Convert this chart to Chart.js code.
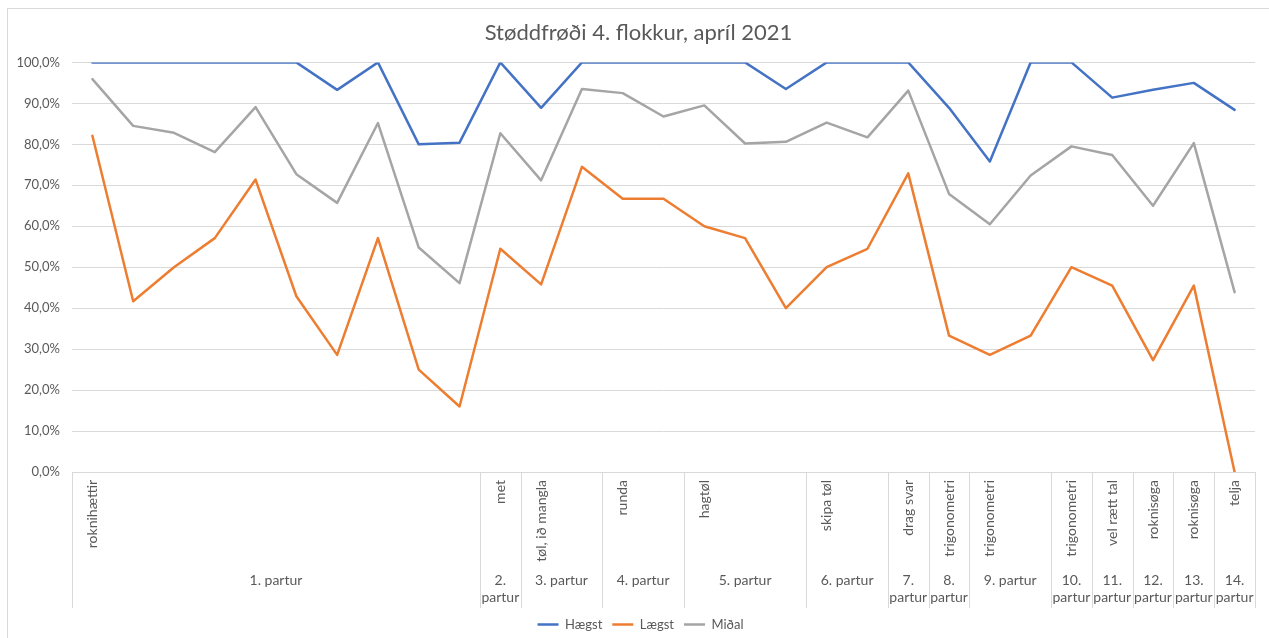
<!DOCTYPE html>
<html>
<head>
<meta charset="utf-8">
<script src="https://cdn.jsdelivr.net/npm/chart.js@4"></script>
<style>
  html, body { margin: 0; padding: 0; background: #fff; }
  #wrap { position: relative; width: 1269px; height: 638px; }
  #frame { position: absolute; left: 7px; top: 8px; right: 0; bottom: 0; border-top: 1px solid #d9d9d9; border-left: 1px solid #d9d9d9; }
  #chart { position: absolute; left: 0; top: 0; }
</style>
</head>
<body>
<div id="wrap">
  <div id="frame"></div>
  <canvas id="chart" width="1269" height="638"></canvas>
</div>
<script>
// inner category labels (only first item of each partur has one)
const categories = [
  'roknihættir', '', '', '', '', '', '', '', '', '',
  'met',
  'tøl, ið mangla', '',
  'runda', '',
  'hagtøl', '', '',
  'skipa tøl', '',
  'drag svar',
  'trigonometri',
  'trigonometri', '',
  'trigonometri',
  'vel rætt tal',
  'roknisøga',
  'roknisøga',
  'telja'
];
const groupLabels = ['1. partur', '2. partur', '3. partur', '4. partur', '5. partur', '6. partur', '7. partur',
  '8. partur', '9. partur', '10. partur', '11. partur', '12. partur', '13. partur', '14. partur'];
const groupSizes = [10, 1, 2, 2, 3, 2, 1, 1, 2, 1, 1, 1, 1, 1];

const haegst = [100, 100, 100, 100, 100, 100, 93.3, 100, 80, 80.4, 100, 88.9, 100, 100, 100, 100, 100, 93.5, 100, 100, 100, 88.9, 75.8, 100, 100, 91.4, 93.3, 95, 88.4];
const laegst = [82.1, 41.7, 50, 57.1, 71.4, 42.9, 28.6, 57.1, 25, 16, 54.5, 45.8, 74.5, 66.7, 66.7, 60, 57.1, 40, 50, 54.5, 72.9, 33.3, 28.6, 33.3, 50, 45.5, 27.3, 45.5, 0];
const midal = [95.9, 84.5, 82.8, 78.1, 89.1, 72.7, 65.7, 85.2, 54.8, 46.1, 82.7, 71.2, 93.5, 92.5, 86.8, 89.5, 80.2, 80.6, 85.3, 81.7, 93.1, 67.9, 60.5, 72.4, 79.5, 77.4, 65, 80.3, 43.9];

const textColor = '#595959';
const gridColor = '#d9d9d9';
const fontFamily = 'Lato, "Open Sans", sans-serif';

// draws the outer (partur) row of the category axis with its separators
const groupAxis = {
  id: 'groupAxis',
  afterLayout(chart) {
    // excel centres title and legend on the whole frame, a bit right of the plot
    chart.titleBlock.left += 4;
    chart.titleBlock.right += 4;
    chart.legend.left += 6;
    chart.legend.right += 6;
  },
  afterDraw(chart) {
    const xs = chart.scales.x;
    const ctx = chart.ctx;
    const bw = xs.getPixelForValue(1) - xs.getPixelForValue(0);
    ctx.save();
    ctx.strokeStyle = gridColor;
    ctx.lineWidth = 1;
    ctx.fillStyle = textColor;
    ctx.font = '14px ' + fontFamily;
    ctx.textAlign = 'center';
    ctx.textBaseline = 'middle';
    let start = 0;
    groupSizes.forEach((n, i) => {
      const left = xs.getPixelForValue(start) - bw / 2;
      const right = xs.getPixelForValue(start + n - 1) + bw / 2;
      const lx = Math.round(left) + 0.5;
      ctx.beginPath();
      ctx.moveTo(lx, xs.top);
      ctx.lineTo(lx, xs.bottom);
      ctx.stroke();
      if (i === groupSizes.length - 1) {
        const rx = Math.round(right) + 0.5;
        ctx.beginPath();
        ctx.moveTo(rx, xs.top);
        ctx.lineTo(rx, xs.bottom);
        ctx.stroke();
      }
      const cx = (left + right) / 2;
      const label = groupLabels[i];
      if (ctx.measureText(label).width > right - left - 4) {
        const parts = label.split(' ');
        ctx.fillText(parts[0], cx, xs.top + 108);
        ctx.fillText(parts[1], cx, xs.top + 125);
      } else {
        ctx.fillText(label, cx, xs.top + 108);
      }
      start += n;
    });
    ctx.restore();
  }
};

const lineSet = (label, data, color) => ({
  label: label,
  data: data,
  borderColor: color,
  backgroundColor: color,
  borderWidth: 2.5,
  pointRadius: 0,
  tension: 0,
  borderJoinStyle: 'round',
  borderCapStyle: 'round'
});

new Chart(document.getElementById('chart').getContext('2d'), {
  type: 'line',
  data: {
    labels: categories,
    datasets: [
      lineSet('Hægst', haegst, '#4472c4'),
      lineSet('Lægst', laegst, '#ed7d31'),
      lineSet('Miðal', midal, '#a5a5a5')
    ]
  },
  options: {
    responsive: false,
    animation: false,
    layout: { padding: { left: 14, right: 14, top: 0, bottom: -3 } },
    plugins: {
      title: {
        display: true,
        text: 'Støddfrøði 4. flokkur, apríl 2021',
        color: textColor,
        font: { family: fontFamily, size: 22, weight: 'normal' },
        padding: { top: 20, bottom: 16 }
      },
      legend: {
        position: 'bottom',
        labels: {
          color: textColor,
          font: { family: fontFamily, size: 13 },
          usePointStyle: true,
          pointStyle: 'line',
          pointStyleWidth: 21,
          padding: 10
        }
      },
      tooltip: { enabled: false }
    },
    scales: {
      x: {
        offset: true,
        grid: { display: false, drawTicks: false },
        border: { display: true, color: gridColor },
        ticks: {
          autoSkip: false,
          minRotation: 90,
          maxRotation: 90,
          padding: 8,
          color: textColor,
          font: { family: fontFamily, size: 14 }
        },
        afterFit(scale) { scale.height = 136; }
      },
      y: {
        min: 0,
        max: 100,
        grid: { color: gridColor, drawTicks: false },
        border: { display: false },
        ticks: {
          stepSize: 10,
          padding: 12,
          color: textColor,
          font: { family: fontFamily, size: 13 },
          callback: v => v.toFixed(1).replace('.', ',') + '%'
        },
        afterFit(scale) { scale.width = 58; }
      }
    }
  },
  plugins: [groupAxis]
});
</script>
</body>
</html>
